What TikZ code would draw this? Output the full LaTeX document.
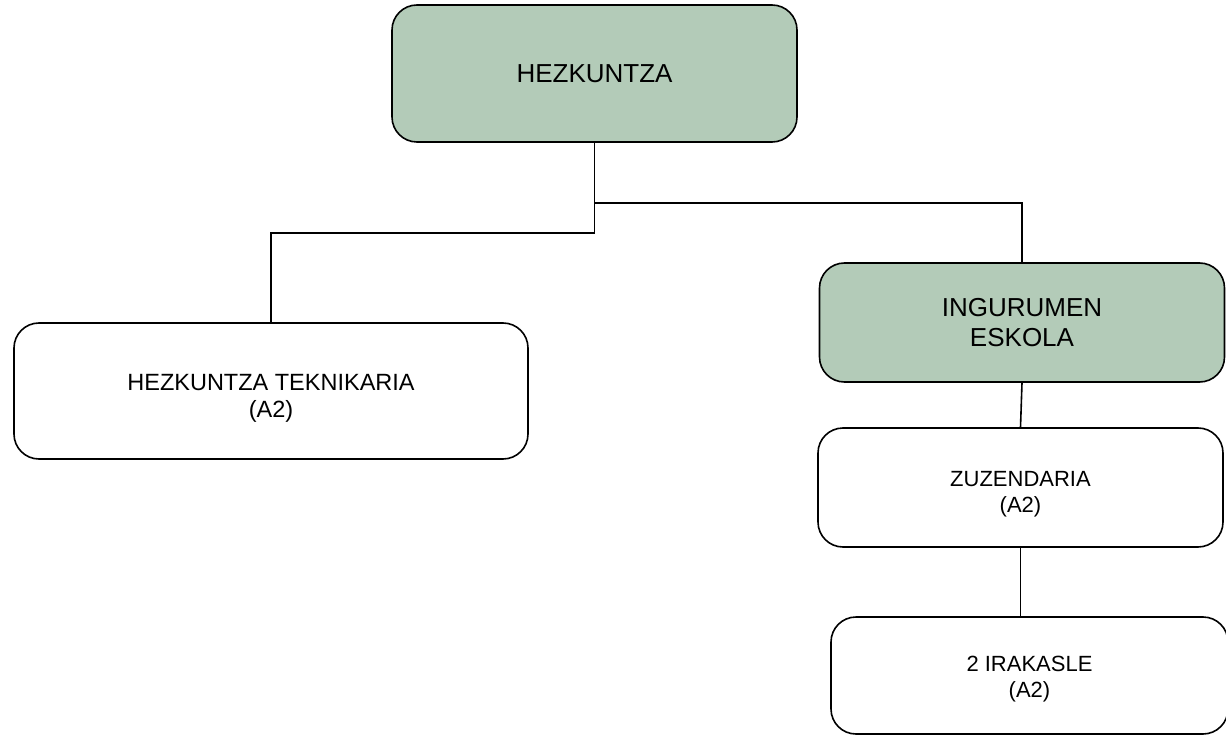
\documentclass[tikz,border=0pt]{standalone}
\usepackage{fontspec}
\setmainfont{Liberation Sans}
\usepackage{tikz}
\usetikzlibrary{arrows,shapes}
\definecolor{sage}{RGB}{179,203,184}
\tikzstyle{box}=[rectangle,rounded corners=25pt,draw=black,line width=1.6pt,fill=white,align=center,inner sep=0pt]
\tikzstyle{dept}=[box,fill=sage,font=\fontsize{26}{30}\selectfont]
\tikzstyle{post}=[box,font=\fontsize{22}{26}\selectfont]
\tikzstyle{branch} = [draw,line width=1.6pt,-]

\begin{document}
\begin{tikzpicture}[x=1pt,y=-1pt]
      \useasboundingbox (0,0) rectangle (1226,735);
      \node[dept,minimum width=405pt,minimum height=137pt] (hezk) at (594.5,73.5) {HEZKUNTZA};
      \node[post,minimum width=514pt,minimum height=136pt,font=\fontsize{23.5}{27}\selectfont,text height=57pt] (tekn) at (271,391) {HEZKUNTZA TEKNIKARIA\\(A2)};
      \node[dept,minimum width=405pt,minimum height=119pt] (ingu) at (1022,322.5) {INGURUMEN\\ESKOLA};
      \node[post,minimum width=405pt,minimum height=119pt,text height=54pt] (zuze) at (1020.5,487.5) {ZUZENDARIA\\(A2)};
      \node[post,minimum width=397pt,minimum height=117pt,text height=48pt] (irak) at (1029.5,675.5) {2 IRAKASLE\\(A2)};
      \draw[branch] (hezk.south) -- ++(0,90) -| (tekn.north);
      \draw[branch] (hezk.south) -- ++(0,60) -| (ingu.north);
      \draw[branch] (ingu.south) -- (zuze.north);
      \draw[branch] (zuze.south) -- (zuze.south |- irak.north);
    \end{tikzpicture}
\end{document}
